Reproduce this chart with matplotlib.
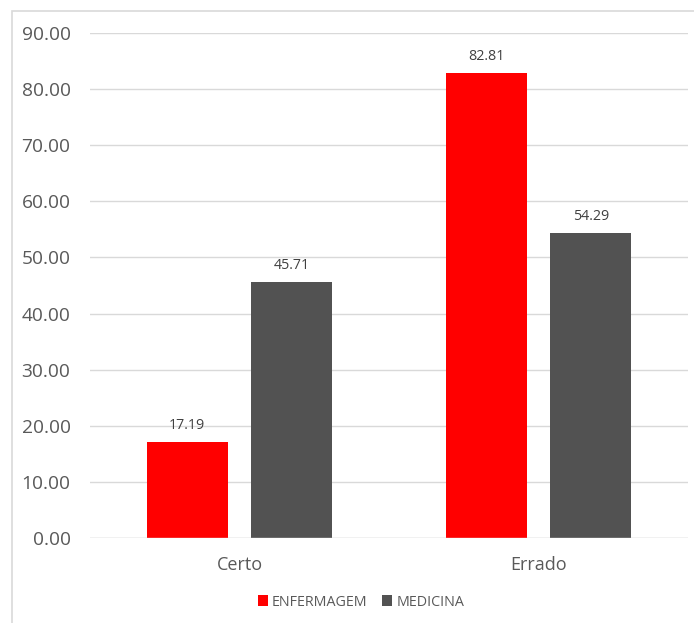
import matplotlib.pyplot as plt
import numpy as np
from matplotlib.patches import Rectangle

categories = ["Certo", "Errado"]
enfermagem = [17.19, 82.81]
medicina = [45.71, 54.29]
series_names = ["ENFERMAGEM", "MEDICINA"]

plt.rcParams['font.family'] = ['Open Sans', 'DejaVu Sans']
txt = "#595959"

fig = plt.figure(figsize=(6.94, 6.23), dpi=100)
ax = fig.add_axes([90 / 694, 1 - 538 / 623, 598 / 694, 505 / 623])

# chart outline
fig.patches.append(Rectangle((12 / 694, -0.1), 1.2, 1 - 11 / 623 + 0.1,
                             transform=fig.transFigure, fill=False,
                             edgecolor="#d9d9d9", linewidth=1.2))

x = np.arange(len(categories))
w = 0.27
b1 = ax.bar(x - 0.175, enfermagem, w, color="#ff0000", label=series_names[0], zorder=3)
b2 = ax.bar(x + 0.175, medicina, w, color="#525252", label=series_names[1], zorder=3)

for bars in (b1, b2):
    for r in bars:
        h = r.get_height()
        ax.text(r.get_x() + r.get_width() / 2, h + 1.6, f"{h:.2f}",
                ha="center", va="bottom", fontsize=10.3, color="#404040")

ax.set_xlim(-0.5, 1.5)
ax.set_ylim(0, 90)
ax.set_yticks(np.arange(0, 91, 10))
ax.set_yticklabels([f"{v:.2f}" for v in np.arange(0, 91, 10)])
ax.set_xticks(x)
ax.set_xticklabels(categories)
ax.tick_params(axis="y", length=0, pad=14, labelsize=13.8, labelcolor=txt)
ax.tick_params(axis="x", length=0, pad=13, labelsize=13, labelcolor=txt)
ax.grid(axis="y", color="#d9d9d9", linewidth=1, zorder=0)
for s in ax.spines.values():
    s.set_visible(False)
ax.axhline(0, color="#d9d9d9", linewidth=1, zorder=4)

leg = fig.legend(loc="center", bbox_to_anchor=(361 / 694, 1 - 602 / 623), ncol=2,
                 frameon=False, fontsize=10.3, handlelength=0.7, handleheight=0.7,
                 handletextpad=0.3, columnspacing=1.0, labelcolor=txt)

fig.savefig("out.png", dpi=100)
